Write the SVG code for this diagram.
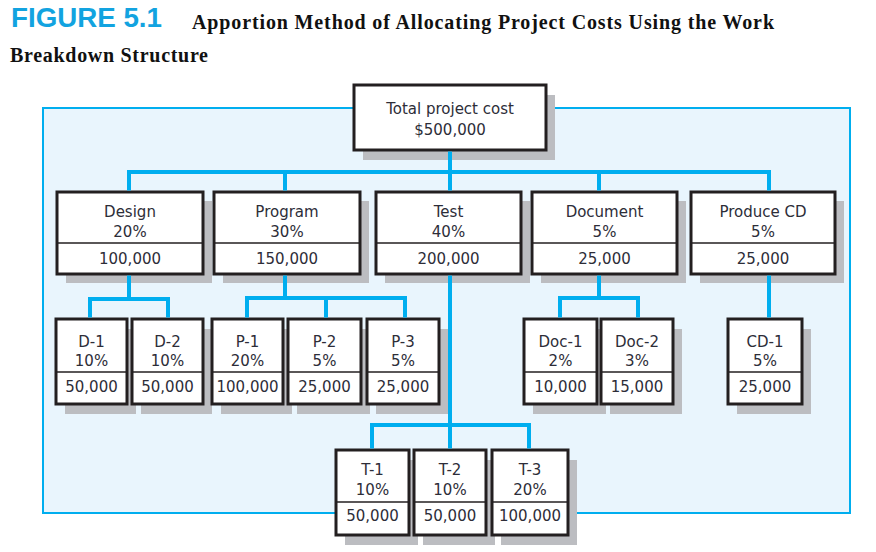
<svg xmlns="http://www.w3.org/2000/svg" width="876" height="552" viewBox="0 0 876 552">
<style>
  .shadow { fill: #bcbdc1; }
  .box { fill: #ffffff; stroke: #231f20; stroke-width: 3; }
  .div { stroke: #231f20; stroke-width: 1.5; }
  .t { font-family: "DejaVu Sans", "Liberation Sans", sans-serif; font-size: 15px; fill: #2d2d38; text-anchor: middle; }
  .conn { fill: none; stroke: #00aeef; stroke-width: 4; stroke-linejoin: miter; stroke-linecap: butt; }
  .title1 { font-family: "Liberation Sans", Arial, sans-serif; font-weight: bold; font-size: 27px; fill: #12a3e0; }
  .title2 { font-family: "Liberation Serif", "Times New Roman", serif; font-weight: bold; font-size: 20px; fill: #111111; }
</style>

<rect width="876" height="552" fill="#ffffff"/>

<g id="title">
  <text class="title1" x="11" y="27" textLength="151" lengthAdjust="spacingAndGlyphs">FIGURE 5.1</text>
  <text class="title2" x="192" y="29" textLength="582" lengthAdjust="spacing">Apportion Method of Allocating Project Costs Using the Work</text>
  <text class="title2" x="10" y="62" textLength="198" lengthAdjust="spacing">Breakdown Structure</text>
</g>

<rect id="panel" x="43" y="108" width="807" height="405" fill="#e9f5fd" stroke="#00aeef" stroke-width="2"/>

<g id="nodes">
  <g id="total">
    <rect class="shadow" x="363" y="95" width="192" height="65"/>
    <rect class="box" x="354" y="85" width="192" height="65"/>
    <text class="t" x="450" y="114">Total project cost</text>
    <text class="t" x="450" y="135">$500,000</text>
  </g>

  <g id="design">
    <rect class="shadow" x="66" y="201" width="146" height="82"/>
    <rect class="box" x="57" y="192" width="146" height="82"/>
    <line class="div" x1="57" y1="243" x2="203" y2="243"/>
    <text class="t" x="130" y="217">Design</text>
    <text class="t" x="130" y="237">20%</text>
    <text class="t" x="130" y="264">100,000</text>
  </g>
  <g id="program">
    <rect class="shadow" x="223" y="201" width="146" height="82"/>
    <rect class="box" x="214" y="192" width="146" height="82"/>
    <line class="div" x1="214" y1="243" x2="360" y2="243"/>
    <text class="t" x="287" y="217">Program</text>
    <text class="t" x="287" y="237">30%</text>
    <text class="t" x="287" y="264">150,000</text>
  </g>
  <g id="test">
    <rect class="shadow" x="385" y="201" width="145" height="82"/>
    <rect class="box" x="376" y="192" width="145" height="82"/>
    <line class="div" x1="376" y1="243" x2="521" y2="243"/>
    <text class="t" x="448.5" y="217">Test</text>
    <text class="t" x="448.5" y="237">40%</text>
    <text class="t" x="448.5" y="264">200,000</text>
  </g>
  <g id="document">
    <rect class="shadow" x="541" y="201" width="145" height="82"/>
    <rect class="box" x="532" y="192" width="145" height="82"/>
    <line class="div" x1="532" y1="243" x2="677" y2="243"/>
    <text class="t" x="604.5" y="217">Document</text>
    <text class="t" x="604.5" y="237">5%</text>
    <text class="t" x="604.5" y="264">25,000</text>
  </g>
  <g id="produce-cd">
    <rect class="shadow" x="700" y="201" width="144" height="82"/>
    <rect class="box" x="691" y="192" width="144" height="82"/>
    <line class="div" x1="691" y1="243" x2="835" y2="243"/>
    <text class="t" x="763" y="217">Produce CD</text>
    <text class="t" x="763" y="237">5%</text>
    <text class="t" x="763" y="264">25,000</text>
  </g>

  <g id="d-1">
    <rect class="shadow" x="65" y="329" width="71" height="85"/>
    <rect class="box" x="56" y="319" width="71" height="85"/>
    <line class="div" x1="56" y1="372" x2="127" y2="372"/>
    <text class="t" x="91.5" y="347">D-1</text>
    <text class="t" x="91.5" y="366">10%</text>
    <text class="t" x="91.5" y="392">50,000</text>
  </g>
  <g id="d-2">
    <rect class="shadow" x="141" y="329" width="71" height="85"/>
    <rect class="box" x="132" y="319" width="71" height="85"/>
    <line class="div" x1="132" y1="372" x2="203" y2="372"/>
    <text class="t" x="167.5" y="347">D-2</text>
    <text class="t" x="167.5" y="366">10%</text>
    <text class="t" x="167.5" y="392">50,000</text>
  </g>
  <g id="p-1">
    <rect class="shadow" x="221" y="329" width="71" height="85"/>
    <rect class="box" x="212" y="319" width="71" height="85"/>
    <line class="div" x1="212" y1="372" x2="283" y2="372"/>
    <text class="t" x="247.5" y="347">P-1</text>
    <text class="t" x="247.5" y="366">20%</text>
    <text class="t" x="247.5" y="392">100,000</text>
  </g>
  <g id="p-2">
    <rect class="shadow" x="297" y="329" width="73" height="85"/>
    <rect class="box" x="288" y="319" width="73" height="85"/>
    <line class="div" x1="288" y1="372" x2="361" y2="372"/>
    <text class="t" x="324.5" y="347">P-2</text>
    <text class="t" x="324.5" y="366">5%</text>
    <text class="t" x="324.5" y="392">25,000</text>
  </g>
  <g id="p-3">
    <rect class="shadow" x="376" y="329" width="72" height="85"/>
    <rect class="box" x="367" y="319" width="72" height="85"/>
    <line class="div" x1="367" y1="372" x2="439" y2="372"/>
    <text class="t" x="403" y="347">P-3</text>
    <text class="t" x="403" y="366">5%</text>
    <text class="t" x="403" y="392">25,000</text>
  </g>
  <g id="doc-1">
    <rect class="shadow" x="533" y="329" width="73" height="85"/>
    <rect class="box" x="524" y="319" width="73" height="85"/>
    <line class="div" x1="524" y1="372" x2="597" y2="372"/>
    <text class="t" x="560.5" y="347">Doc-1</text>
    <text class="t" x="560.5" y="366">2%</text>
    <text class="t" x="560.5" y="392">10,000</text>
  </g>
  <g id="doc-2">
    <rect class="shadow" x="610" y="329" width="72" height="85"/>
    <rect class="box" x="601" y="319" width="72" height="85"/>
    <line class="div" x1="601" y1="372" x2="673" y2="372"/>
    <text class="t" x="637" y="347">Doc-2</text>
    <text class="t" x="637" y="366">3%</text>
    <text class="t" x="637" y="392">15,000</text>
  </g>
  <g id="cd-1">
    <rect class="shadow" x="737" y="329" width="74" height="85"/>
    <rect class="box" x="728" y="319" width="74" height="85"/>
    <line class="div" x1="728" y1="372" x2="802" y2="372"/>
    <text class="t" x="765" y="347">CD-1</text>
    <text class="t" x="765" y="366">5%</text>
    <text class="t" x="765" y="392">25,000</text>
  </g>

  <g id="t-1">
    <rect class="shadow" x="345" y="460" width="73" height="85"/>
    <rect class="box" x="336" y="450" width="73" height="85"/>
    <line class="div" x1="336" y1="502" x2="409" y2="502"/>
    <text class="t" x="372.5" y="475">T-1</text>
    <text class="t" x="372.5" y="495">10%</text>
    <text class="t" x="372.5" y="521">50,000</text>
  </g>
  <g id="t-2">
    <rect class="shadow" x="423" y="460" width="72" height="85"/>
    <rect class="box" x="414" y="450" width="72" height="85"/>
    <line class="div" x1="414" y1="502" x2="486" y2="502"/>
    <text class="t" x="450" y="475">T-2</text>
    <text class="t" x="450" y="495">10%</text>
    <text class="t" x="450" y="521">50,000</text>
  </g>
  <g id="t-3">
    <rect class="shadow" x="501" y="460" width="76" height="85"/>
    <rect class="box" x="492" y="450" width="76" height="85"/>
    <line class="div" x1="492" y1="502" x2="568" y2="502"/>
    <text class="t" x="530" y="475">T-3</text>
    <text class="t" x="530" y="495">20%</text>
    <text class="t" x="530" y="521">100,000</text>
  </g>
</g>

<g id="connectors">
  <path class="conn" d="M450 151.5 V172"/>
  <path class="conn" d="M129 190.5 V172 H769 V190.5"/>
  <path class="conn" d="M285 172 V190.5 M450 172 V190.5 M599 172 V190.5"/>
  <path class="conn" d="M129 275.5 V299"/>
  <path class="conn" d="M90 317.5 V299 H168 V317.5"/>
  <path class="conn" d="M285 275.5 V298"/>
  <path class="conn" d="M247 317.5 V298 H405 V317.5 M326 298 V317.5"/>
  <path class="conn" d="M450 275.5 V425"/>
  <path class="conn" d="M372 448.5 V425 H529 V448.5 M450 425 V448.5"/>
  <path class="conn" d="M599 275.5 V298"/>
  <path class="conn" d="M560 317.5 V298 H638 V317.5"/>
  <path class="conn" d="M769 275.5 V317.5"/>
</g>
</svg>
